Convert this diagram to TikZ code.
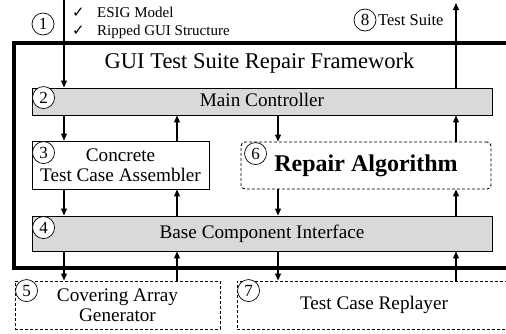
\documentclass[tikz,border=0pt]{standalone}
\usepackage{fontspec}
\setmainfont{Liberation Serif}
\newfontfamily\symfont{DejaVu Sans}
\usetikzlibrary{arrows.meta}
\newcommand\bodysize{\fontsize{19.2}{20}\selectfont}

\begin{document}
\begin{tikzpicture}[x=1pt,y=-1pt,
  box/.style={draw, line width=0.9pt, inner sep=0pt, align=center, font=\bodysize},
  graybox/.style={box, fill=black!15},
  dashbox/.style={box, dash pattern=on 3pt off 2pt},
  numc/.style={circle, draw, line width=0.7pt, inner sep=0pt, minimum size=22pt,
    fill=white, font=\fontsize{17}{17}\selectfont},
  flow/.style={line width=1.1pt, -{Triangle[length=7pt,width=6pt]}},
  note/.style={inner sep=0pt, anchor=base west, font=\fontsize{15}{15}\selectfont},
]
\useasboundingbox (0,0) rectangle (506,333);
\clip (0,0) rectangle (506,333);

% framework border (its right side runs past the page edge)
\node[draw, line width=4.5pt, inner sep=0pt, minimum width=516pt, minimum height=225pt]
  (frame) at (272,155.5) {};
\node[font=\fontsize{22.5}{24}\selectfont] (title) at (259.5,63)
  {GUI Test Suite Repair Framework};

% components
\node[graybox, minimum width=460pt, minimum height=27pt, text depth=3pt] (main) at (262,101.5)
  {Main Controller};
\node[box, minimum width=177pt, minimum height=48pt] (conc) at (120.5,165)
  {Concrete\\Test Case Assembler};
\node[dashbox, rounded corners=4pt, minimum width=250pt, minimum height=47pt,
  font=\fontsize{24}{26}\selectfont\bfseries] (rep) at (366,165.5) {Repair Algorithm};
\node[graybox, minimum width=460pt, minimum height=35pt] (base) at (262,233.5)
  {Base Component Interface};
\node[dashbox, minimum width=205pt, minimum height=48pt] (cag) at (117.5,305)
  {Covering Array\\Generator};
\node[dashbox, minimum width=274pt, minimum height=48pt] (tcr) at (374,305)
  {Test Case Replayer};

% step numbers
\node[numc] (n1) at (43,24) {1};
\node[numc] (n2) at ([xshift=12pt,yshift=-10pt]main.north west) {2};
\node[numc] (n3) at ([xshift=12pt,yshift=-12pt]conc.north west) {3};
\node[numc] (n4) at ([xshift=12pt,yshift=-12pt]base.north west) {4};
\node[numc] (n5) at ([xshift=12pt,yshift=-10pt]cag.north west) {5};
\node[numc] (n6) at ([xshift=15pt,yshift=-12pt]rep.north west) {6};
\node[numc] (n7) at ([xshift=12pt,yshift=-10pt]tcr.north west) {7};
\node[numc] (n8) at (365,20) {8};

% inputs and output
\node[note] (chk1) at (72,17) {{\symfont ✓}};
\node[note] (in1) at (97,17) {ESIG Model};
\node[note] (chk2) at (72,35) {{\symfont ✓}};
\node[note] (in2) at (97,35) {Ripped GUI Structure};
\node[note, font=\fontsize{16.5}{16.5}\selectfont] (out) at (378,25) {Test Suite};

% arrow columns
\coordinate (colA) at (64,0);
\coordinate (colB) at (177,0);
\coordinate (colC) at (278,0);
\coordinate (colD) at (456,0);
\coordinate (src) at (64,-5);
\coordinate (sink) at (456,3);

\draw[flow] (src) -- (colA |- main.north);
\draw[flow] (colD |- main.north) -- (sink);

\draw[flow] (colA |- main.south) -- (colA |- conc.north);
\draw[flow] (colB |- conc.north) -- (colB |- main.south);
\draw[flow] (colA |- conc.south) -- (colA |- base.north);
\draw[flow] (colB |- base.north) -- (colB |- conc.south);

\draw[flow] (colC |- main.south) -- (colC |- rep.north);
\draw[flow] (colD |- rep.north) -- (colD |- main.south);
\draw[flow] (colC |- rep.south) -- (colC |- base.north);
\draw[flow] (colD |- base.north) -- (colD |- rep.south);

\draw[flow] (colA |- base.south) -- (colA |- cag.north);
\draw[flow] (colB |- cag.north) -- (colB |- base.south);
\draw[flow] (colC |- base.south) -- (colC |- tcr.north);
\draw[flow] (colD |- tcr.north) -- (colD |- base.south);
\end{tikzpicture}
\end{document}
